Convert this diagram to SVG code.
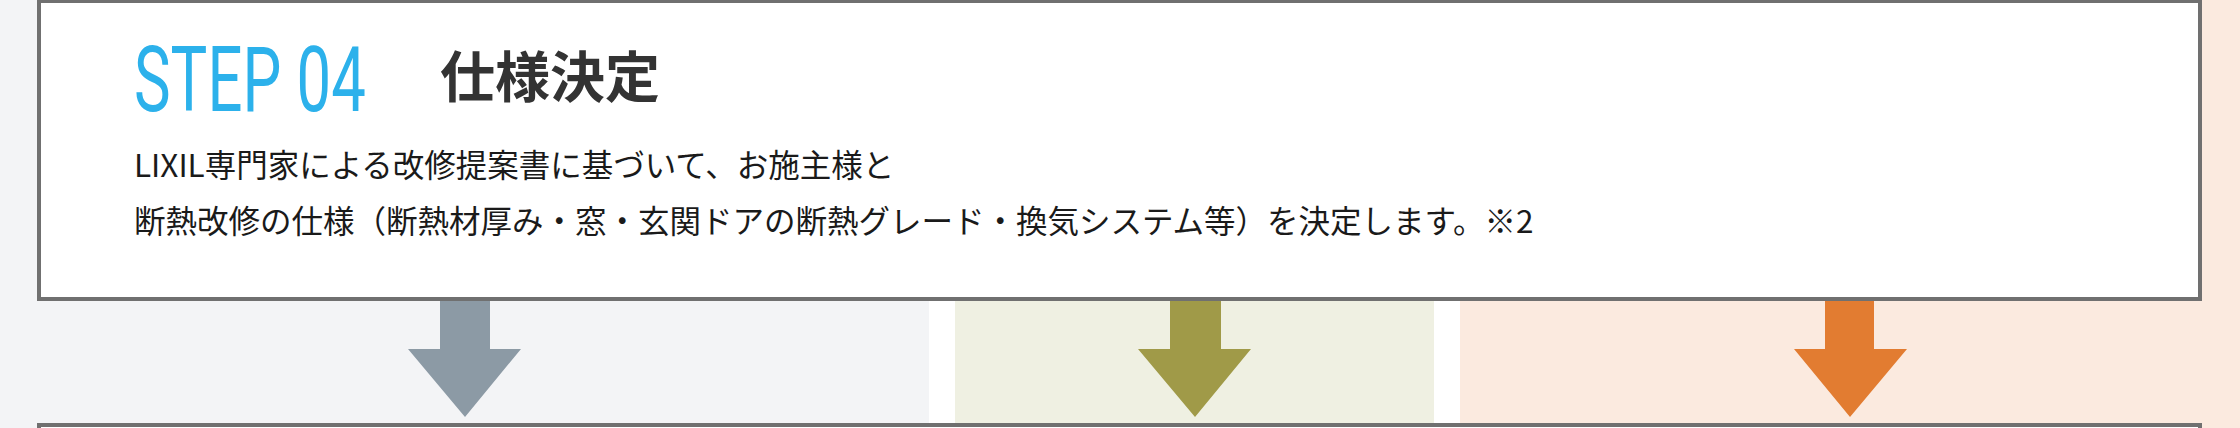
<svg xmlns="http://www.w3.org/2000/svg" width="2240" height="428" viewBox="0 0 2240 428">
<style>
.box{fill:#ffffff;stroke:#707070;stroke-width:4}
.step{font-family:Roboto,"Liberation Sans",sans-serif;font-weight:400;fill:#2cb1eb}
.ttl{font-family:"Noto Sans CJK JP","Noto Sans",sans-serif;font-weight:700;fill:#333333}
.body{font-family:"Noto Sans CJK JP","Noto Sans",sans-serif;font-size:31.5px;fill:#1a1a1a}
</style>
<g id="background">
<rect x="0" y="0" width="929" height="428" fill="#f3f4f6"/>
<rect x="929" y="0" width="26" height="428" fill="#ffffff"/>
<rect x="955" y="0" width="479" height="428" fill="#eff0e2"/>
<rect x="1434" y="0" width="26" height="428" fill="#ffffff"/>
<rect x="1460" y="0" width="780" height="428" fill="#fbeadf"/>
</g>
<g id="step04">
<rect class="box" x="39" y="1" width="2161" height="298"/>
<text class="step" transform="translate(134,111) scale(0.68,1)" x="0" y="0" font-size="90" textLength="341" lengthAdjust="spacingAndGlyphs">STEP 04</text>
<text class="ttl" x="440" y="97" font-size="55">仕様決定</text>
<text class="body" x="134" y="177">LIXIL専門家による改修提案書に基づいて、お施主様と</text>
<text class="body" x="134" y="233">断熱改修の仕様（断熱材厚み・窓・玄関ドアの断熱グレード・換気システム等）を決定します。※2</text>
</g>
<g id="next-step">
<rect class="box" x="39" y="425" width="2161" height="40"/>
</g>
<g id="connectors">
<path d="M440 301 H490 V349 H521 L465 417 L408 349 H440 Z" fill="#8c9aa5"/>
<path d="M1170 301 H1221 V349 H1251 L1195 417 L1138 349 H1170 Z" fill="#a09a48"/>
<path d="M1825 301 H1874 V349 H1907 L1850 417 L1794 349 H1825 Z" fill="#e27c31"/>
</g>
</svg>
